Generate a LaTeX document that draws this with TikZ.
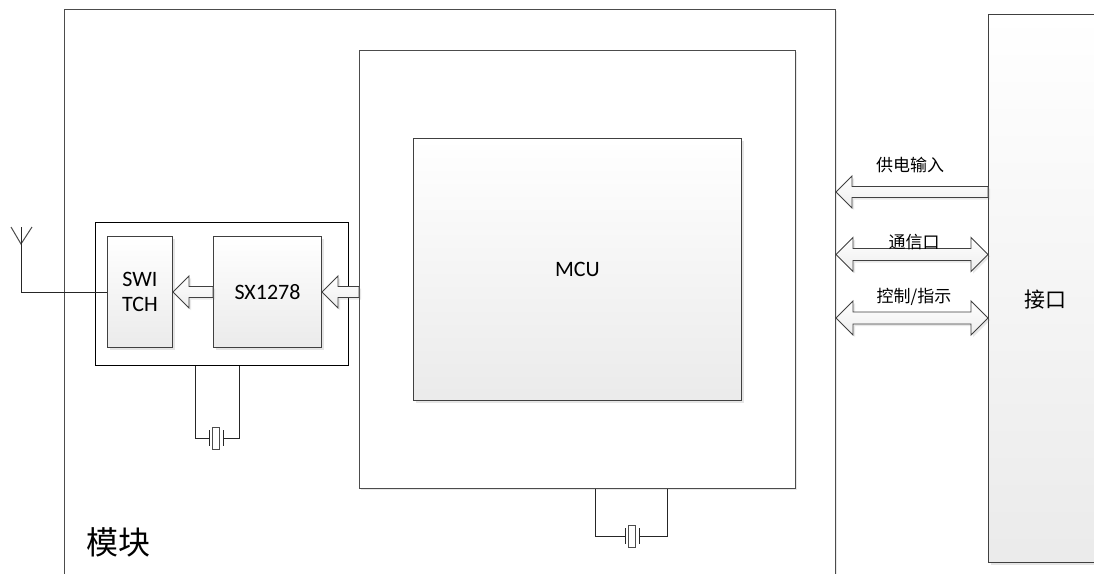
\documentclass[tikz,border=0pt]{standalone}
\usepackage{fontspec}
\setmainfont{Carlito}
\newfontfamily\cjk{Noto Sans CJK SC}
\usetikzlibrary{shadows,calc}
\newcommand\lharrow[2]{\path[harrow] let \p1=(#1), \p2=(#2) in
  (\x1,\y1) -- (\x1+16pt,\y1+16pt) -- (\x1+16pt,\y1+5.5pt) -- (\x2,\y1+5.5pt)
  -- (\x2,\y1-5.5pt) -- (\x1+16pt,\y1-5.5pt) -- (\x1+16pt,\y1-16pt) -- cycle;}
\newcommand\dharrow[2]{\path[harrow] let \p1=(#1), \p2=(#2) in
  (\x1,\y1) -- (\x1+17pt,\y1+17pt) -- (\x1+17pt,\y1+6pt) -- (\x2-17pt,\y1+6pt)
  -- (\x2-17pt,\y1+17pt) -- (\x2,\y1) -- (\x2-17pt,\y1-17pt) -- (\x2-17pt,\y1-6pt)
  -- (\x1+17pt,\y1-6pt) -- (\x1+17pt,\y1-17pt) -- cycle;}
\newcommand\xtal[4]{% name, centre, top y of body offset
  \node[xbody] (#1) at (#2) {};
  \draw[wire] ($(#1.center)+(-7,-8)$) -- ($(#1.center)+(-7,8)$);
  \draw[wire] ($(#1.center)+(7,-8)$) -- ($(#1.center)+(7,8)$);
}
\begin{document}
\begin{tikzpicture}[x=1pt,y=-1pt,line width=1pt,
  frame/.style={draw=black!70,fill=white,rectangle,inner sep=0,anchor=north west,
    drop shadow={shadow xshift=1.5pt,shadow yshift=-1.5pt,opacity=0.18}},
  box/.style={draw=black!75,rectangle,inner sep=0,anchor=north west,
    top color=white,bottom color=black!8,
    drop shadow={shadow xshift=2.5pt,shadow yshift=-2.5pt,opacity=0.2}},
  harrow/.style={draw=black!75,line width=0.9pt,top color=white,bottom color=black!7,
    drop shadow={shadow xshift=2pt,shadow yshift=-2pt,opacity=0.18}},
  wire/.style={draw=black!85,line width=1pt},
  xbody/.style={draw=black!70,fill=white,rectangle,inner sep=0,minimum width=7pt,minimum height=22pt,line width=0.9pt},
  lat/.style={font=\fontsize{22}{25}\selectfont},
  zh/.style={font=\cjk\fontsize{17}{20}\selectfont}]
\useasboundingbox (0,0) rectangle (1094,573);
\fill[white] (0,0) rectangle (1094,573);

% containers
\node[frame,minimum width=771pt,minimum height=620pt] (module) at (64,9) {};
\node[frame,minimum width=436pt,minimum height=438pt] (mcuo) at (359,50) {};
\node[box,minimum width=328pt,minimum height=262pt] (mcu) at (413,138) {};
\node[lat] at (mcu.center) {MCU};

\node[draw=black,fill=white,rectangle,inner sep=0,anchor=north west,minimum width=253pt,minimum height=143pt] (rf) at (95,222) {};
\node[box,minimum width=65pt,minimum height=111pt] (sw) at (107,236) {};
\node[lat,align=center] at (sw.center) {SWI\\TCH};
\node[box,minimum width=108pt,minimum height=111pt] (sx) at (213,236) {};
\node[lat] at (sx.center) {SX1278};

\node[box,minimum width=150pt,minimum height=548pt] (iface) at (988,14) {};
\node[font=\cjk\fontsize{21}{24}\selectfont] at (1045,300) {接口};

% antenna
\coordinate (ant) at (21,244);
\draw[wire,draw=black!70] (11,227) -- (ant) -- (32,227);
\draw[wire] (21,227) -- (ant |- sw.west) -- (sw.west);

% hollow arrows on the left
\lharrow{sw.east}{sx.west}
\lharrow{sx.east}{mcuo.west |- sx.east}

% crystal under RF block
\xtal{x1}{216,438}{}{}
\coordinate (c1a) at (195,438);
\coordinate (c1b) at (239,438);
\draw[wire] (c1a |- rf.south) -- (c1a) -- ($(x1.center)+(-7,0)$);
\draw[wire] (c1b |- rf.south) -- (c1b) -- ($(x1.center)+(7,0)$);

% crystal under MCU
\xtal{x2}{632,536}{}{}
\coordinate (c2a) at (595,536);
\coordinate (c2b) at (667,536);
\draw[wire] (c2a |- mcuo.south) -- (c2a) -- ($(x2.center)+(-7,0)$);
\draw[wire] (c2b |- mcuo.south) -- (c2b) -- ($(x2.center)+(7,0)$);

% right-hand arrows
\coordinate (yp) at (0,192);
\coordinate (yc) at (0,254.5);
\coordinate (yk) at (0,318);
\lharrow{module.east |- yp}{iface.west |- yp}
\dharrow{module.east |- yc}{iface.west |- yc}
\dharrow{module.east |- yk}{iface.west |- yk}
\node[zh] at (910,165) {供电输入};
\node[zh] at (914,242) {通信口};
\node[zh] at (914,297) {控制/指示};

\node[font=\cjk\fontsize{32}{36}\selectfont] at (118,542) {模块};
\end{tikzpicture}
\end{document}
